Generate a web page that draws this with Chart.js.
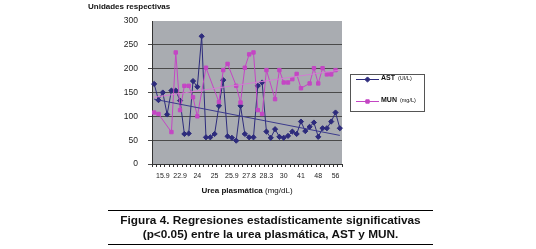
<!DOCTYPE html>
<html>
<head>
<meta charset="utf-8">
<script src="https://cdn.jsdelivr.net/npm/chart.js@4.4.1/dist/chart.umd.min.js"></script>
<style>
  html, body { margin: 0; padding: 0; background: #fff; }
  #wrap { position: relative; width: 536px; height: 249px; }
  #c { position: absolute; left: 0; top: 0; }
  #caption {
    position: absolute; left: 108px; top: 210px; width: 325px; height: 35px;
    border-top: 1px solid #000; border-bottom: 1px solid #000;
    font-family: "Liberation Sans", Arial, sans-serif; font-weight: bold;
    font-size: 11.8px; line-height: 14px; text-align: center; color: #111;
    padding-top: 2px; box-sizing: border-box;
  }
</style>
</head>
<body>
<div id="wrap">
  <canvas id="c" width="536" height="249"></canvas>
  <div id="caption">Figura 4. Regresiones estadísticamente significativas<br>(p&lt;0.05) entre la urea plasmática, AST y MUN.</div>
</div>
<script>
// ---- data ----
const categories = ['', '', '15.9', '', '', '', '22.9', '', '', '', '24', '', '', '', '25', '', '', '', '25.9', '', '', '',
                    '27.8', '', '', '', '28.3', '', '', '', '30', '', '', '', '41', '', '', '', '48', '', '', '', '56', ''];
const astValues = [168, 134, 150, 104, 154, 154, 133, 63, 64, 174, 162, 268, 56, 56, 63, 122, 176, 58, 55, 49, 122, 63,
                   56, 56, 164, 171, 68, 55, 73, 57, 55, 59, 68, 63, 89, 69, 78, 87, 57, 75, 75, 89, 108, 75];
const munValues = [108, 105, null, null, 67, 234, 113, 164, 164, 140, 100, null, 202, null, null, 130, 197, 210, null, 164, 129, 202,
                   230, 234, 113, 105, 197, null, 136, 197, 171, 171, 178, 189, 159, null, 169, 201, 169, 201, 188, 188, 197, null];
const astTrend = [136, 60];   // trend line values at first and last category
const munTrend = [140, 197];
const yTicks = [0, 50, 100, 150, 200, 250, 300];
const seriesNames = ['AST', 'MUN'];
const seriesUnits = ['(UI/L)', '(mg/L)'];

const AST_COLOR = '#2d2b7c';
const MUN_COLOR = '#c446c4';

const n = categories.length;
const trendData = t => categories.map((_, i) => i === 0 ? t[0] : (i === n - 1 ? t[1] : null));

const FONT = '"Liberation Sans", Arial, sans-serif';

const bgPlugin = {
  id: 'bg',
  beforeDraw(chart) {
    const a = chart.chartArea, ctx = chart.ctx;
    ctx.save();
    ctx.fillStyle = '#a9acb1';
    ctx.fillRect(a.left, a.top, a.right - a.left, a.bottom - a.top);
    ctx.restore();
  }
};

const textPlugin = {
  id: 'texts',
  afterDraw(chart) {
    const ctx = chart.ctx, a = chart.chartArea;
    ctx.save();
    ctx.fillStyle = '#111';
    ctx.textBaseline = 'middle';
    // y-axis title (horizontal, top-left)
    ctx.font = 'bold 8px ' + FONT;
    ctx.textAlign = 'left';
    ctx.fillText('Unidades respectivas', 88, 7);
    // x-axis title with mixed weights
    const p1 = 'Urea plasmática', p2 = ' (mg/dL)';
    ctx.font = 'bold 8px ' + FONT;
    const w1 = ctx.measureText(p1).width;
    ctx.font = '8px ' + FONT;
    const w2 = ctx.measureText(p2).width;
    const cx = (a.left + a.right) / 2;
    const x0 = cx - (w1 + w2) / 2;
    const ty = 191;
    ctx.font = 'bold 8px ' + FONT;
    ctx.fillText(p1, x0, ty);
    ctx.font = '8px ' + FONT;
    ctx.fillText(p2, x0 + w1, ty);

    // legend
    const lx = 350, ly = 74, lw = 74, lh = 37;
    ctx.strokeStyle = '#555';
    ctx.lineWidth = 1;
    ctx.strokeRect(lx + 0.5, ly + 0.5, lw, lh);
    const rows = [79.5, 101.5];
    [0, 1].forEach(k => {
      const ds = chart.data.datasets[k];
      const y = rows[k];
      ctx.strokeStyle = ds.borderColor;
      ctx.lineWidth = 1;
      ctx.beginPath();
      ctx.moveTo(356, y); ctx.lineTo(379, y); ctx.stroke();
      ctx.fillStyle = ds.pointBackgroundColor;
      ctx.strokeStyle = ds.pointBorderColor;
      Chart.helpers.drawPoint(ctx, { pointStyle: ds.pointStyle, radius: ds.pointRadius, borderWidth: 1, rotation: 0 }, 367.5, y);
      ctx.fillStyle = '#111';
      ctx.font = 'bold 7px ' + FONT;
      ctx.textAlign = 'left';
      ctx.fillText(seriesNames[k], 381, y - 1);
      const wn = ctx.measureText(seriesNames[k]).width;
      ctx.font = '5.5px ' + FONT;
      ctx.fillText(seriesUnits[k], 381 + wn + 3, y - 1);
    });
    ctx.restore();
  }
};

new Chart(document.getElementById('c'), {
  type: 'line',
  data: {
    labels: categories,
    datasets: [
      { label: 'AST', data: astValues, borderColor: AST_COLOR, borderWidth: 1,
        pointStyle: 'rectRot', pointRadius: 2.6, pointBackgroundColor: AST_COLOR, pointBorderColor: AST_COLOR,
        pointBorderWidth: 1, tension: 0, order: 2 },
      { label: 'MUN', data: munValues, borderColor: MUN_COLOR, borderWidth: 1, spanGaps: true,
        pointStyle: 'rect', pointRadius: 2.4, pointBackgroundColor: MUN_COLOR, pointBorderColor: MUN_COLOR,
        pointBorderWidth: 1, tension: 0, order: 1 },
      { label: 'AST trend', data: trendData(astTrend), borderColor: '#3b3a8c', borderWidth: 1, spanGaps: true,
        pointRadius: 0, tension: 0, order: 0 },
      { label: 'MUN trend', data: trendData(munTrend), borderColor: '#d47ad4', borderWidth: 1, spanGaps: true,
        pointRadius: 0, tension: 0, order: 0 }
    ]
  },
  options: {
    responsive: false,
    animation: false,
    events: [],
    layout: { padding: { top: 21, right: 194, left: 0, bottom: 0 } },
    plugins: { legend: { display: false }, title: { display: false }, tooltip: { enabled: false } },
    scales: {
      x: {
        type: 'category',
        offset: true,
        afterFit(s) { s.height = 85; },
        border: { display: true, color: '#333', width: 1 },
        grid: { display: true, drawOnChartArea: false, drawTicks: true, tickLength: 3, offset: true, color: '#333' },
        ticks: { autoSkip: false, maxRotation: 0, minRotation: 0, padding: 5,
                 font: { family: FONT, size: 7 }, color: '#222',
                 callback: (v, i) => categories[i] }
      },
      y: {
        min: yTicks[0], max: yTicks[yTicks.length - 1],
        afterFit(s) { s.width = 152; },
        afterBuildTicks(s) { s.ticks = yTicks.map(v => ({ value: v })); },
        border: { display: true, color: '#333', width: 1 },
        grid: { color: ctx => (ctx.tick && ctx.tick.value === 300) ? 'rgba(0,0,0,0)' : '#4a4a4a', lineWidth: 1, tickLength: 4 },
        ticks: { padding: 10, font: { family: FONT, size: 8.5 }, color: '#222' }
      }
    }
  },
  plugins: [bgPlugin, textPlugin]
});
</script>
</body>
</html>
